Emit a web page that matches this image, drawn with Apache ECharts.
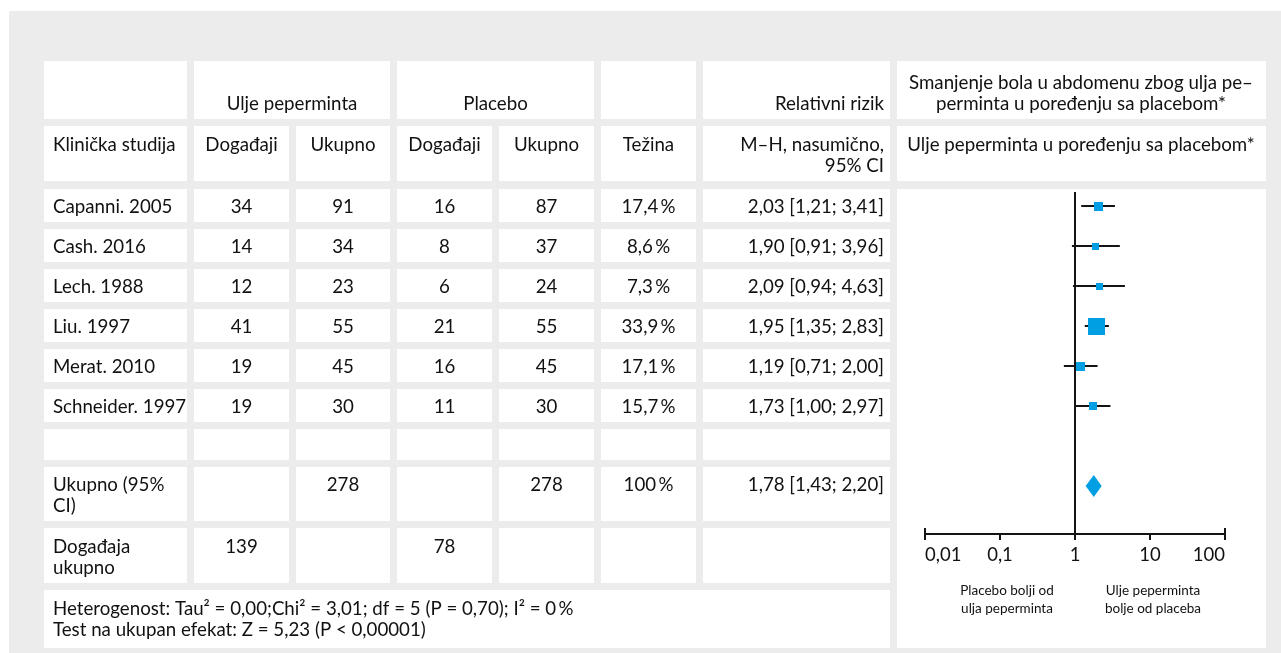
<!DOCTYPE html>
<html><head><meta charset="utf-8">
<script src="https://cdn.jsdelivr.net/npm/echarts@6/dist/echarts.min.js"></script>
<style>html,body{margin:0;padding:0;background:#fff}#c{width:1281px;height:653px}</style>
</head><body><div id="c"></div>
<script>
// ---- data ----
const studies = ['Capanni. 2005','Cash. 2016','Lech. 1988','Liu. 1997','Merat. 2010','Schneider. 1997'];
const oilEvents = [34,14,12,41,19,19];
const oilTotal = [91,34,23,55,45,30];
const placeboEvents = [16,8,6,21,16,11];
const placeboTotal = [87,37,24,55,45,30];
const weights = [17.4,8.6,7.3,33.9,17.1,15.7];
const riskRatio = [2.03,1.90,2.09,1.95,1.19,1.73];
const ciLow = [1.21,0.91,0.94,1.35,0.71,1.00];
const ciHigh = [3.41,3.96,4.63,2.83,2.00,2.97];
const pooledRR = 1.78, pooledLow = 1.43, pooledHigh = 2.20;
const totalOil = 278, totalPlacebo = 278, totalWeight = 100;
const eventsOil = 139, eventsPlacebo = 78;
const axisTicks = [0.01, 0.1, 1, 10, 100];
const heterogeneity = 'Heterogenost: Tau\u00B2 = 0,00;Chi\u00B2 = 3,01; df = 5 (P = 0,70); I\u00B2 = 0\u2009%';
const overallTest = 'Test na ukupan efekat: Z = 5,23 (P < 0,00001)';

// ---- helpers ----
const fmt = (v, d) => v.toFixed(d).replace('.', ',');
const FONT = 'Lato';
const FS = 18.7;
const TXT = '#111111';
const DY = 1;
const G = [];
function cell(x0, x1, y0, y1) {
  G.push({type:'rect', silent:true, z:-10, shape:{x:x0, y:y0, width:x1-x0, height:y1-y0}, style:{fill:'#ffffff'}});
}
function txt(s, x, y, align, size) {
  G.push({type:'text', silent:true, z:-5, style:{text:s, x:x, y:y + DY, fill:TXT, fontFamily:FONT, fontSize:size||FS,
    align:align||'left', verticalAlign:'middle', textAlign:align||'left', textVerticalAlign:'middle'}});
}
G.push({type:'rect', silent:true, z:-20, shape:{x:9, y:11, width:1272, height:642}, style:{fill:'#ececec'}});

const cols = [[44,187],[194,289],[296,390],[397,492],[499,594],[601,696],[703,890]];
const ctr = c => (cols[c][0] + cols[c][1]) / 2;
const LX = 53, RX = 884;
const PLOT = [897, 1266];

// header row 1
cell(44,187,61,119); cell(194,390,61,119); cell(397,594,61,119); cell(601,696,61,119); cell(703,890,61,119);
cell(PLOT[0],PLOT[1],61,119);
txt('Ulje peperminta', 292, 103, 'center');
txt('Placebo', 495.5, 103, 'center');
txt('Relativni rizik', RX, 103, 'right');
txt('Smanjenje bola u abdomenu zbog ulja pe\u2013', 1081, 82, 'center');
txt('perminta u pore\u0111enju sa placebom*', 1081, 103, 'center');

// header row 2
cols.forEach(c => cell(c[0], c[1], 126, 181));
cell(PLOT[0],PLOT[1],126,181);
txt('Klini\u010Dka studija', LX, 144, 'left');
txt('Doga\u0111aji', ctr(1), 144, 'center');
txt('Ukupno', ctr(2), 144, 'center');
txt('Doga\u0111aji', ctr(3), 144, 'center');
txt('Ukupno', ctr(4), 144, 'center');
txt('Te\u017Eina', ctr(5), 144, 'center');
txt('M\u2013H, nasumi\u010Dno,', RX, 144, 'right');
txt('95% CI', RX, 165, 'right');
txt('Ulje peperminta u pore\u0111enju sa placebom*', 1081, 144, 'center');

// forest plot panel
cell(PLOT[0], PLOT[1], 189, 648);

// study rows
studies.forEach((s, i) => {
  const top = 189 + 40 * i;
  cols.forEach(c => cell(c[0], c[1], top, top + 33));
  const y = top + 17;
  txt(s, LX, y, 'left');
  txt(String(oilEvents[i]), ctr(1), y, 'center');
  txt(String(oilTotal[i]), ctr(2), y, 'center');
  txt(String(placeboEvents[i]), ctr(3), y, 'center');
  txt(String(placeboTotal[i]), ctr(4), y, 'center');
  txt(fmt(weights[i],1) + '\u2009%', ctr(5), y, 'center');
  txt(fmt(riskRatio[i],2) + ' [' + fmt(ciLow[i],2) + '; ' + fmt(ciHigh[i],2) + ']', RX, y, 'right');
});
// empty row
cols.forEach(c => cell(c[0], c[1], 429, 460));
// total row
cols.forEach(c => cell(c[0], c[1], 467, 521));
txt('Ukupno (95%', LX, 484, 'left');
txt('CI)', LX, 505, 'left');
txt(String(totalOil), ctr(2), 484, 'center');
txt(String(totalPlacebo), ctr(4), 484, 'center');
txt(String(totalWeight) + '\u2009%', ctr(5), 484, 'center');
txt(fmt(pooledRR,2) + ' [' + fmt(pooledLow,2) + '; ' + fmt(pooledHigh,2) + ']', RX, 484, 'right');
// events row
cols.forEach(c => cell(c[0], c[1], 528, 583));
txt('Doga\u0111aja', LX, 546, 'left');
txt('ukupno', LX, 567, 'left');
txt(String(eventsOil), ctr(1), 546, 'center');
txt(String(eventsPlacebo), ctr(3), 546, 'center');
// heterogeneity row
cell(44, 890, 590, 648);
txt(heterogeneity, LX, 608, 'left');
txt(overallTest, LX, 629, 'left');
// favours labels
txt('Placebo bolji od', 1007, 590, 'center', 13.5);
txt('ulja peperminta', 1007, 608, 'center', 13.5);
txt('Ulje peperminta', 1153, 590, 'center', 13.5);
txt('bolje od placeba', 1153, 608, 'center', 13.5);

const BLUE = '#009fe3';
const LINE = '#141414';

const chart = echarts.init(document.getElementById('c'), null, {renderer:'canvas'});
chart.setOption({
  animation: false,
  backgroundColor: '#ffffff',
  graphic: G,
  grid: {left: 925, right: 56, top: 192, bottom: 119, containLabel: false},
  xAxis: {
    type: 'log', logBase: 10, min: axisTicks[0], max: axisTicks[axisTicks.length-1],
    axisLine: {show: true, onZero: false, lineStyle: {color: LINE, width: 2}},
    axisTick: {show: true, length: 6, lineStyle: {color: LINE, width: 2}},
    axisLabel: {color: TXT, fontFamily: FONT, fontSize: 18.5, margin: 12,
      alignMinLabel: 'left', alignMaxLabel: 'right',
      formatter: v => String(+(+v).toPrecision(6)).replace('.', ',')},
    splitLine: {show: false}, minorTick: {show: false}
  },
  yAxis: {type: 'value', inverse: true, min: -0.35, max: 8.2, show: false},
  series: [
    {
      type: 'custom', name: 'studies', z: 5, clip: false,
      data: studies.map((s, i) => [riskRatio[i], i, ciLow[i], ciHigh[i], weights[i]]),
      encode: {x: 0, y: 1},
      renderItem: (params, api) => {
        const y = api.value(1);
        const p = api.coord([api.value(0), y]);
        const lo = api.coord([api.value(2), y]);
        const hi = api.coord([api.value(3), y]);
        const sz = Math.round(Math.max(7, api.value(4) * 0.5));
        return {type: 'group', children: [
          {type: 'line', shape: {x1: lo[0], y1: lo[1], x2: hi[0], y2: hi[1]}, style: {stroke: LINE, lineWidth: 2}},
          {type: 'rect', shape: {x: Math.round(p[0] - sz/2), y: Math.round(p[1] - sz/2), width: sz, height: sz}, style: {fill: BLUE}}
        ]};
      },
      markLine: {
        silent: true, symbol: 'none', label: {show: false}, animation: false,
        lineStyle: {color: LINE, width: 2, type: 'solid'},
        data: [{xAxis: 1}]
      }
    },
    {
      type: 'custom', name: 'pooled', z: 5, clip: false,
      data: [[pooledRR, 7, pooledLow, pooledHigh]],
      encode: {x: 0, y: 1},
      renderItem: (params, api) => {
        const y = api.value(1);
        const p = api.coord([api.value(0), y]);
        const lo = api.coord([api.value(2), y]);
        const hi = api.coord([api.value(3), y]);
        return {type: 'polygon', shape: {points: [[lo[0] - 1, p[1]], [p[0], p[1] - 11], [hi[0] + 1, p[1]], [p[0], p[1] + 11]]}, style: {fill: BLUE}};
      }
    },
    {
      type: 'custom', name: 'caps', z: 5, clip: false,
      data: [[axisTicks[0], 8.2], [axisTicks[axisTicks.length-1], 8.2]],
      encode: {x: 0, y: 1},
      renderItem: (params, api) => {
        const p = api.coord([api.value(0), api.value(1)]);
        return {type: 'line', shape: {x1: p[0], y1: p[1] - 6, x2: p[0], y2: p[1]}, style: {stroke: LINE, lineWidth: 2}};
      }
    }
  ]
});
</script>
</body></html>
